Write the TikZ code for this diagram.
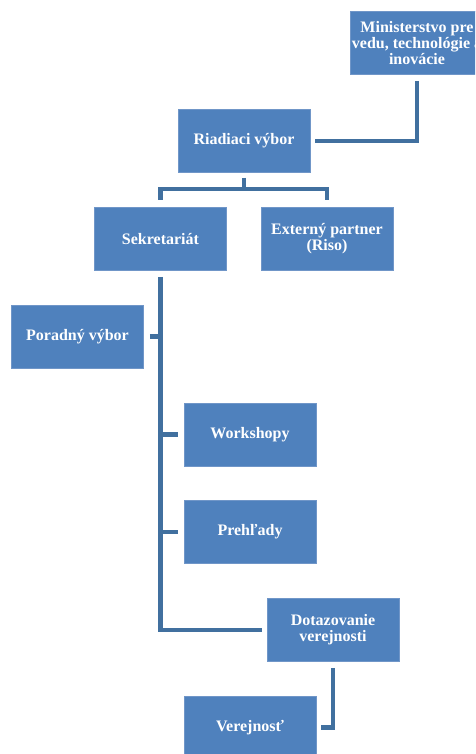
\documentclass[tikz,border=0pt]{standalone}
\usepackage{fontspec}
\setmainfont{Liberation Serif}
\definecolor{boxblue}{HTML}{4F81BD}
\definecolor{boxrim}{HTML}{7096C8}
\definecolor{linkblue}{HTML}{41709F}

\begin{document}
\begin{tikzpicture}[x=1pt, y=-1pt,
		box/.style={draw=boxrim, line width=0.8pt, fill=boxblue, rectangle, text=white, align=center, inner sep=0pt, minimum width=132pt, minimum height=63pt, font=\fontsize{16}{16}\selectfont\bfseries},
		link/.style={draw=linkblue, line width=4.5pt, shorten <=6pt, shorten >=5pt}]
					\useasboundingbox (0,0) rectangle (475,754);
					\clip (0,0) rectangle (475,754);
					\node[box, minimum width=134pt] (Min)at(417, 43) {Ministerstvo pre\\vedu, technológie a\\inovácie};
					\node[box] (Riad)at(244, 141) {Riadiaci výbor};
					\node[box] (Sekr)at(160.5, 239) {Sekretariát};
					\node[box] (Ext)at(327, 239) {Externý partner\\(Riso)};
					\node[box] (Por)at(77.5, 336.5) {Poradný výbor};
					\node[box] (Work)at(250, 434.5) {Workshopy};
					\node[box] (Preh)at(250, 532) {Prehľady};
					\node[box] (Dotaz)at(333, 630) {Dotazovanie\\verejnosti};
					\node[box] (Verej)at(250, 727.5) {Verejnosť};
					% spojnice
					\draw[link] (Min) |- (Riad);
					\draw[link, shorten <=0pt, shorten >=7pt] (Riad.south) ++(0,5) -- ++(0,11) -| (Sekr.north);
					\draw[link, shorten <=0pt, shorten >=7pt] (Riad.south) ++(0,5) -- ++(0,11) -| (Ext.north);
					\draw[link] (Sekr) |- (Dotaz);
					\draw[link, shorten <=0pt, shorten >=0pt] (Por.east) ++(6,0) -- (Por -| Sekr);
					\draw[link, shorten <=0pt, shorten >=0pt] (Work.west) ++(-6,0) -- (Work -| Sekr);
					\draw[link, shorten <=0pt, shorten >=0pt] (Preh.west) ++(-6,0) -- (Preh -| Sekr);
					\draw[link] (Dotaz) |- (Verej);
				\end{tikzpicture}
\end{document}
